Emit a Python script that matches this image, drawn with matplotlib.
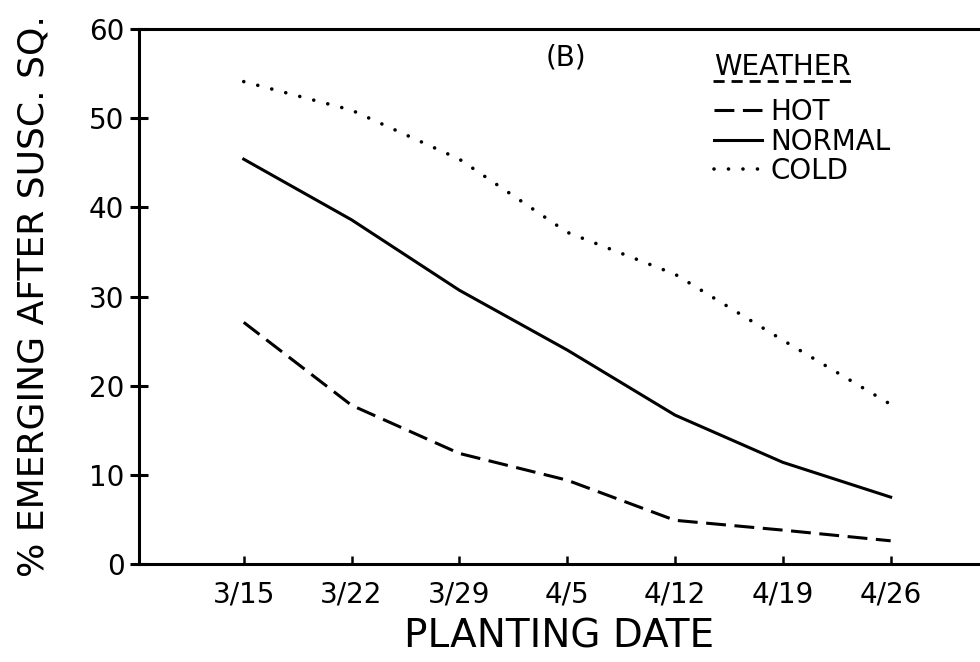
import numpy as np
import matplotlib.pyplot as plt

# planting dates (days after 3/15) and tick labels
days = [0, 7, 14, 21, 28, 35, 42]
date_labels = ['3/15', '3/22', '3/29', '4/5', '4/12', '4/19', '4/26']

# % emerging after susceptible square, by weather
hot = [27.1, 17.8, 12.4, 9.4, 4.9, 3.8, 2.6]
normal = [45.4, 38.6, 30.7, 24.0, 16.7, 11.4, 7.5]
cold = [54.1, 50.9, 45.4, 37.2, 32.5, 25.1, 17.9]

plt.rcParams['font.family'] = ['DejaVu Sans']

fig = plt.figure(figsize=(9.8, 6.62), dpi=100)
ax = fig.add_axes([139 / 980, 1 - 564 / 662, 1 - 139 / 980, (564 - 29) / 662])

lw = 2.2
ax.plot(days, hot, color='black', lw=lw, linestyle=(0, (6.5, 2.8)), label='HOT')
ax.plot(days, normal, color='black', lw=lw, label='NORMAL')
ax.plot(days, cold, color='black', lw=2.6, linestyle=(0, (0.01, 4.0)),
        dash_capstyle='round', label='COLD')

ax.set_xlim(-6.8, 47.8)
ax.set_ylim(0, 60)
ax.set_xticks(days)
ax.set_xticklabels(date_labels)
ax.set_yticks(np.arange(0, 61, 10))

for side in ['top', 'left', 'bottom']:
    ax.spines[side].set_linewidth(2.2)
ax.spines['right'].set_visible(False)

ax.tick_params(axis='y', direction='inout', length=13, width=2.2, labelsize=20, pad=4)
ax.tick_params(axis='x', direction='in', length=6, width=1.8, labelsize=20, pad=12)

ax.set_xlabel('PLANTING DATE', fontsize=28, labelpad=6)
ax.set_ylabel('% EMERGING AFTER SUSC. SQ.', fontsize=26, labelpad=28)

ax.text(0.508, 0.946, '(B)', transform=ax.transAxes, fontsize=20, ha='center', va='center')

leg = ax.legend(loc='upper left', bbox_to_anchor=(0.67, 0.975), frameon=False,
                title='WEATHER', title_fontsize=20, fontsize=20, handlelength=1.75,
                handletextpad=0.3, labelspacing=0.05, borderaxespad=0)
leg._legend_box.align = 'left'
leg._legend_box.sep = 12

# dashed underline of the legend title
ax.plot([0.683, 0.853], [0.903, 0.903], transform=ax.transAxes, color='black',
        lw=2.0, linestyle=(0, (4, 2.5)), clip_on=False)

fig.savefig('out.png', dpi=100)
